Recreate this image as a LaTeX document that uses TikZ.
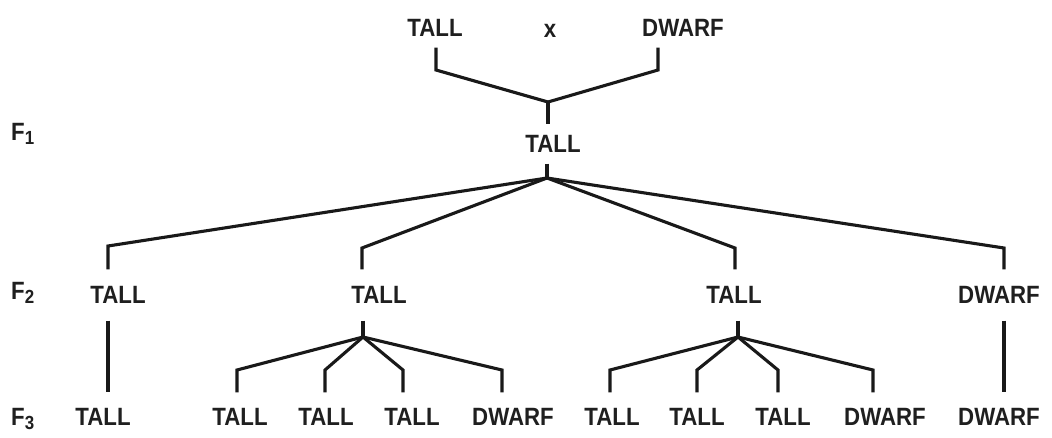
\documentclass[tikz,border=0pt]{standalone}
\usepackage{fontspec}
\newfontfamily\hv{Liberation Sans}[FakeStretch=0.89]
\newcommand\gen[1]{F\raisebox{-4pt}{\fontsize{19}{19}\selectfont #1}}
\begin{document}
\begin{tikzpicture}[x=1pt,y=-1pt,
  txt/.style={font=\hv\bfseries\fontsize{25}{25}\selectfont, inner sep=0pt, anchor=center, text=black!88},
  rowtop/.style={txt, outer ysep=11pt},
  rowone/.style={txt, outer ysep=11pt},
  rowtwo/.style={txt, outer ysep=17pt},
  rowthree/.style={txt, outer ysep=16pt},
  genlbl/.style={font=\hv\bfseries\fontsize{25}{25}\selectfont, inner sep=0pt, anchor=base west, text=black!88},
  ln/.style={line width=3.1pt, draw=black!90, line join=miter}]
\useasboundingbox[fill=white] (0,0) rectangle (1052,437);

% generation labels
\node[genlbl] (lf1) at (11,140) {\gen{1}};
\node[genlbl] (lf2) at (11,299) {\gen{2}};
\node[genlbl] (lf3) at (11,425) {\gen{3}};

% parents
\node[rowtop] (p1) at (435,28) {TALL};
\node[txt] (cross) at (550,31) {x};
\node[rowtop] (p2) at (683,28) {DWARF};

% F1
\node[rowone] (f1) at (553,144) {TALL};

% F2
\node[rowtwo] (g1) at (118,295) {TALL};
\node[rowtwo] (g2) at (379,295) {TALL};
\node[rowtwo] (g3) at (734,295) {TALL};
\node[rowtwo] (g4) at (999,295) {DWARF};

% F3
\node[rowthree] (h1) at (103,417) {TALL};
\node[rowthree] (h2) at (240,417) {TALL};
\node[rowthree] (h3) at (326,417) {TALL};
\node[rowthree] (h4) at (412,417) {TALL};
\node[rowthree] (h5) at (513,417) {DWARF};
\node[rowthree] (h6) at (612,417) {TALL};
\node[rowthree] (h7) at (697,417) {TALL};
\node[rowthree] (h8) at (783,417) {TALL};
\node[rowthree] (h9) at (885,417) {DWARF};
\node[rowthree] (h10) at (999,417) {DWARF};

% junctions and corners
\coordinate (j0) at (548,102);
\coordinate (c0a) at (436,70);
\coordinate (c0b) at (658,70);
\coordinate (j1) at (547,178);
\coordinate (c1a) at (108,246);
\coordinate (c1b) at (362,248);
\coordinate (c1c) at (735,248);
\coordinate (c1d) at (1004,248);
\coordinate (j2) at (363,337);
\coordinate (c2a) at (237,370);
\coordinate (c2b) at (325,370);
\coordinate (c2c) at (403,370);
\coordinate (c2d) at (502,370);
\coordinate (j3) at (738,337);
\coordinate (c3a) at (610,370);
\coordinate (c3b) at (697,370);
\coordinate (c3c) at (778,370);
\coordinate (c3d) at (873,370);

% cross
\draw[ln] (p1.south -| c0a) -- (c0a) -- (j0) -- (c0b) -- (p2.south -| c0b);
\draw[ln] (j0) -- (f1.north -| j0);

% F1 -> F2
\draw[ln] (f1.south -| j1) -- (j1);
\draw[ln] (j1) -- (c1a) -- (c1a |- g1.north);
\draw[ln] (j1) -- (c1b) -- (c1b |- g2.north);
\draw[ln] (j1) -- (c1c) -- (c1c |- g3.north);
\draw[ln] (j1) -- (c1d) -- (c1d |- g4.north);

% F2 -> F3
\draw[ln] (g1.south -| c1a) -- (h1.north -| c1a);
\draw[ln] (g2.south -| j2) -- (j2);
\draw[ln] (j2) -- (c2a) -- (c2a |- h2.north);
\draw[ln] (j2) -- (c2b) -- (c2b |- h3.north);
\draw[ln] (j2) -- (c2c) -- (c2c |- h4.north);
\draw[ln] (j2) -- (c2d) -- (c2d |- h5.north);
\draw[ln] (g3.south -| j3) -- (j3);
\draw[ln] (j3) -- (c3a) -- (c3a |- h6.north);
\draw[ln] (j3) -- (c3b) -- (c3b |- h7.north);
\draw[ln] (j3) -- (c3c) -- (c3c |- h8.north);
\draw[ln] (j3) -- (c3d) -- (c3d |- h9.north);
\draw[ln] (g4.south -| c1d) -- (h10.north -| c1d);
\end{tikzpicture}
\end{document}
